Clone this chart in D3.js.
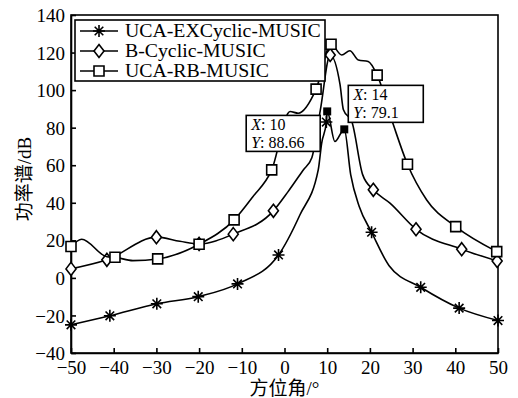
<!DOCTYPE html>
<html lang="zh">
<head>
  <meta charset="utf-8">
  <title>功率谱</title>
  <script src="https://cdn.jsdelivr.net/npm/d3@7/dist/d3.min.js"></script>
  <style>
    body { margin: 0; background: #fff; }
  </style>
</head>
<body>
  <script>
    // values (azimuth in degrees, spectrum in dB)
    const starX = [-50, -40.9, -29.9, -20.2, -11, -1.4, 3.6, 7.9, 8.7, 9.8, 10, 11.8, 14, 15.5, 17.5, 20.4, 24.5, 31.9, 40.9, 50];
    const starY = [-25, -20.2, -13.8, -10, -3.2, 12.2, 33.5, 57.5, 71.7, 83, 88.66, 72.6, 79.1, 55, 38, 24.3, 6.5, -5, -16.1, -22.7];
    const starMarks = [0, 1, 2, 3, 4, 5, 9, 15, 17, 18, 19];

    const diamX = [-50, -41.6, -30, -24.5, -20, -12, -2.6, 0.8, 4.4, 6.4, 8.4, 10.7, 13, 13.8, 15.8, 18.3, 20.8, 24.7, 30.8, 41.5, 49.8];
    const diamY = [4.8, 9.6, 21.7, 19.5, 18.1, 23.3, 35.7, 45.8, 57.5, 64, 89.5, 118.7, 103, 89.5, 83, 55, 46.9, 39.8, 25.9, 15.3, 9];
    const diamMarks = [0, 1, 2, 4, 5, 6, 11, 16, 18, 19, 20];

    const sqX = [-50, -47.5, -41.6, -39.7, -35.5, -29.7, -20, -11.8, -7.5, -3, 1.3, 3.2, 7.4, 10.9, 13.4, 15.3, 17.3, 19.6, 21.7, 25.5, 28.8, 33.3, 40.1, 49.7];
    const sqY = [16.7, 20.6, 11.3, 11, 9.2, 10.1, 17.9, 30.9, 43, 57.5, 88.6, 87.7, 100.5, 124.4, 118.7, 121, 116, 115.2, 108, 81.5, 60.5, 41.5, 27.3, 14];
    const sqMarks = [0, 3, 5, 6, 7, 9, 12, 13, 18, 20, 22, 23];

    const seriesNames = ["UCA-EXCyclic-MUSIC", "B-Cyclic-MUSIC", "UCA-RB-MUSIC"];

    const tipX = [10, 14];
    const tipY = [88.66, 79.1];

    const xTicks = [-50, -40, -30, -20, -10, 0, 10, 20, 30, 40, 50];
    const yTicks = [-40, -20, 0, 20, 40, 60, 80, 100, 120, 140];

    const serif = "'Liberation Serif', 'Times New Roman', serif";
    const cjk = "'Liberation Serif', 'Noto Sans CJK SC', serif";

    const W = 518, H = 398;
    const margin = { left: 71, top: 15, right: 20, bottom: 45 };
    const width = W - margin.left - margin.right;
    const height = H - margin.top - margin.bottom;

    const svg = d3.select("body").append("svg")
      .attr("width", W)
      .attr("height", H);

    const g = svg.append("g")
      .attr("transform", `translate(${margin.left},${margin.top})`);

    const x = d3.scaleLinear().domain([-50, 50]).range([0, width]);
    const y = d3.scaleLinear().domain([-40, 140]).range([height, 0]);

    const fmt = d => d < 0 ? "\u2212" + Math.abs(d) : "" + d;

    // axes, ticks pointing inward
    const xAxisG = g.append("g")
      .attr("transform", `translate(0,${height})`)
      .call(d3.axisBottom(x).tickValues(xTicks).tickFormat(fmt).tickSizeInner(-5).tickSizeOuter(0).tickPadding(8));
    const yAxisG = g.append("g")
      .call(d3.axisLeft(y).tickValues(yTicks).tickFormat(fmt).tickSizeInner(-5).tickSizeOuter(0).tickPadding(6));

    [xAxisG, yAxisG].forEach(a => {
      a.selectAll("path, line").attr("stroke", "#000").attr("stroke-width", 1.6);
      a.selectAll("text")
        .attr("font-family", serif)
        .attr("font-size", 19)
        .attr("fill", "#000");
    });
    yAxisG.selectAll("text").attr("dy", "0.35em");

    // box around the plot
    g.append("rect")
      .attr("width", width)
      .attr("height", height)
      .attr("fill", "none")
      .attr("stroke", "#000")
      .attr("stroke-width", 1.6);

    // marker shapes
    const starPath = "M-6,0H6M0,-6V6M-4.3,-4.3L4.3,4.3M-4.3,4.3L4.3,-4.3";
    const diamPath = "M0,-6.5L5,0L0,6.5L-5,0Z";
    const sqPath = "M-5,-5H5V5H-5Z";

    const series = [
      { xs: starX, ys: starY, marks: starMarks, shape: starPath },
      { xs: diamX, ys: diamY, marks: diamMarks, shape: diamPath },
      { xs: sqX, ys: sqY, marks: sqMarks, shape: sqPath }
    ];

    const line = d3.line()
      .x(d => x(d[0]))
      .y(d => y(d[1]))
      .curve(d3.curveMonotoneX);

    series.forEach(s => {
      const pts = s.xs.map((v, i) => [v, s.ys[i]]);
      g.append("path")
        .datum(pts)
        .attr("d", line)
        .attr("fill", "none")
        .attr("stroke", "#000")
        .attr("stroke-width", 1.6);
      g.selectAll(null)
        .data(s.marks.map(i => pts[i]))
        .join("path")
        .attr("transform", d => `translate(${x(d[0])},${y(d[1])})`)
        .attr("d", s.shape)
        .attr("fill", "#fff")
        .attr("stroke", "#000")
        .attr("stroke-width", 1.6);
    });

    // data tips
    const tips = tipX.map((v, i) => ({ x: v, y: tipY[i] }));
    g.selectAll(".tipdot")
      .data(tips)
      .join("rect")
      .attr("x", d => x(d.x) - 4)
      .attr("y", d => y(d.y) - 4)
      .attr("width", 8)
      .attr("height", 8)
      .attr("fill", "#000");

    // box offsets relative to each tip point
    const tipBox = [
      { dx: -81, dy: 4, w: 74, h: 36 },
      { dx: 4, dy: -44, w: 75, h: 37 }
    ];
    tips.forEach((d, i) => {
      const b = tipBox[i];
      const bx = x(d.x) + b.dx, by = y(d.y) + b.dy;
      const tg = g.append("g").attr("transform", `translate(${bx},${by})`);
      tg.append("rect")
        .attr("width", b.w)
        .attr("height", b.h)
        .attr("fill", "#fff")
        .attr("stroke", "#000")
        .attr("stroke-width", 1.6);
      // one text block, two rows
      const t = tg.append("text")
        .attr("y", 15)
        .attr("font-family", serif)
        .attr("font-size", 16)
        .attr("fill", "#000");
      t.append("tspan").attr("x", 5).attr("font-style", "italic").text("X");
      t.append("tspan").text(": " + d.x);
      t.append("tspan").attr("x", 5).attr("dy", 17.8).attr("font-style", "italic").text("Y");
      t.append("tspan").text(": " + d.y);
    });

    // legend
    const lg = g.append("g").attr("transform", `translate(${4},${5})`);
    lg.append("rect")
      .attr("width", 250)
      .attr("height", 61)
      .attr("fill", "#fff")
      .attr("stroke", "#000")
      .attr("stroke-width", 1.6);
    series.forEach((s, i) => {
      const row = lg.append("g").attr("transform", `translate(0,${11 + i * 20})`);
      row.append("line")
        .attr("x1", 5).attr("x2", 43)
        .attr("stroke", "#000").attr("stroke-width", 1.6);
      row.append("path")
        .attr("transform", "translate(24,0)")
        .attr("d", s.shape)
        .attr("fill", "#fff")
        .attr("stroke", "#000")
        .attr("stroke-width", 1.6);
      // the original type is a little wide, so stretch it sideways
      row.append("text")
        .attr("transform", "translate(50,0) scale(1.1,1)")
        .attr("dy", "0.35em")
        .attr("font-family", serif)
        .attr("font-size", 18)
        .attr("fill", "#000")
        .text(seriesNames[i]);
    });

    // axis titles
    svg.append("text")
      .attr("x", margin.left + width / 2)
      .attr("y", 395)
      .attr("text-anchor", "middle")
      .attr("font-family", cjk)
      .attr("font-size", 19)
      .attr("fill", "#000")
      .text("方位角/°");

    svg.append("text")
      .attr("transform", `translate(31,${179}) rotate(-90)`)
      .attr("text-anchor", "middle")
      .attr("font-family", cjk)
      .attr("font-size", 19)
      .attr("fill", "#000")
      .text("功率谱/dB");
  </script>
</body>
</html>
